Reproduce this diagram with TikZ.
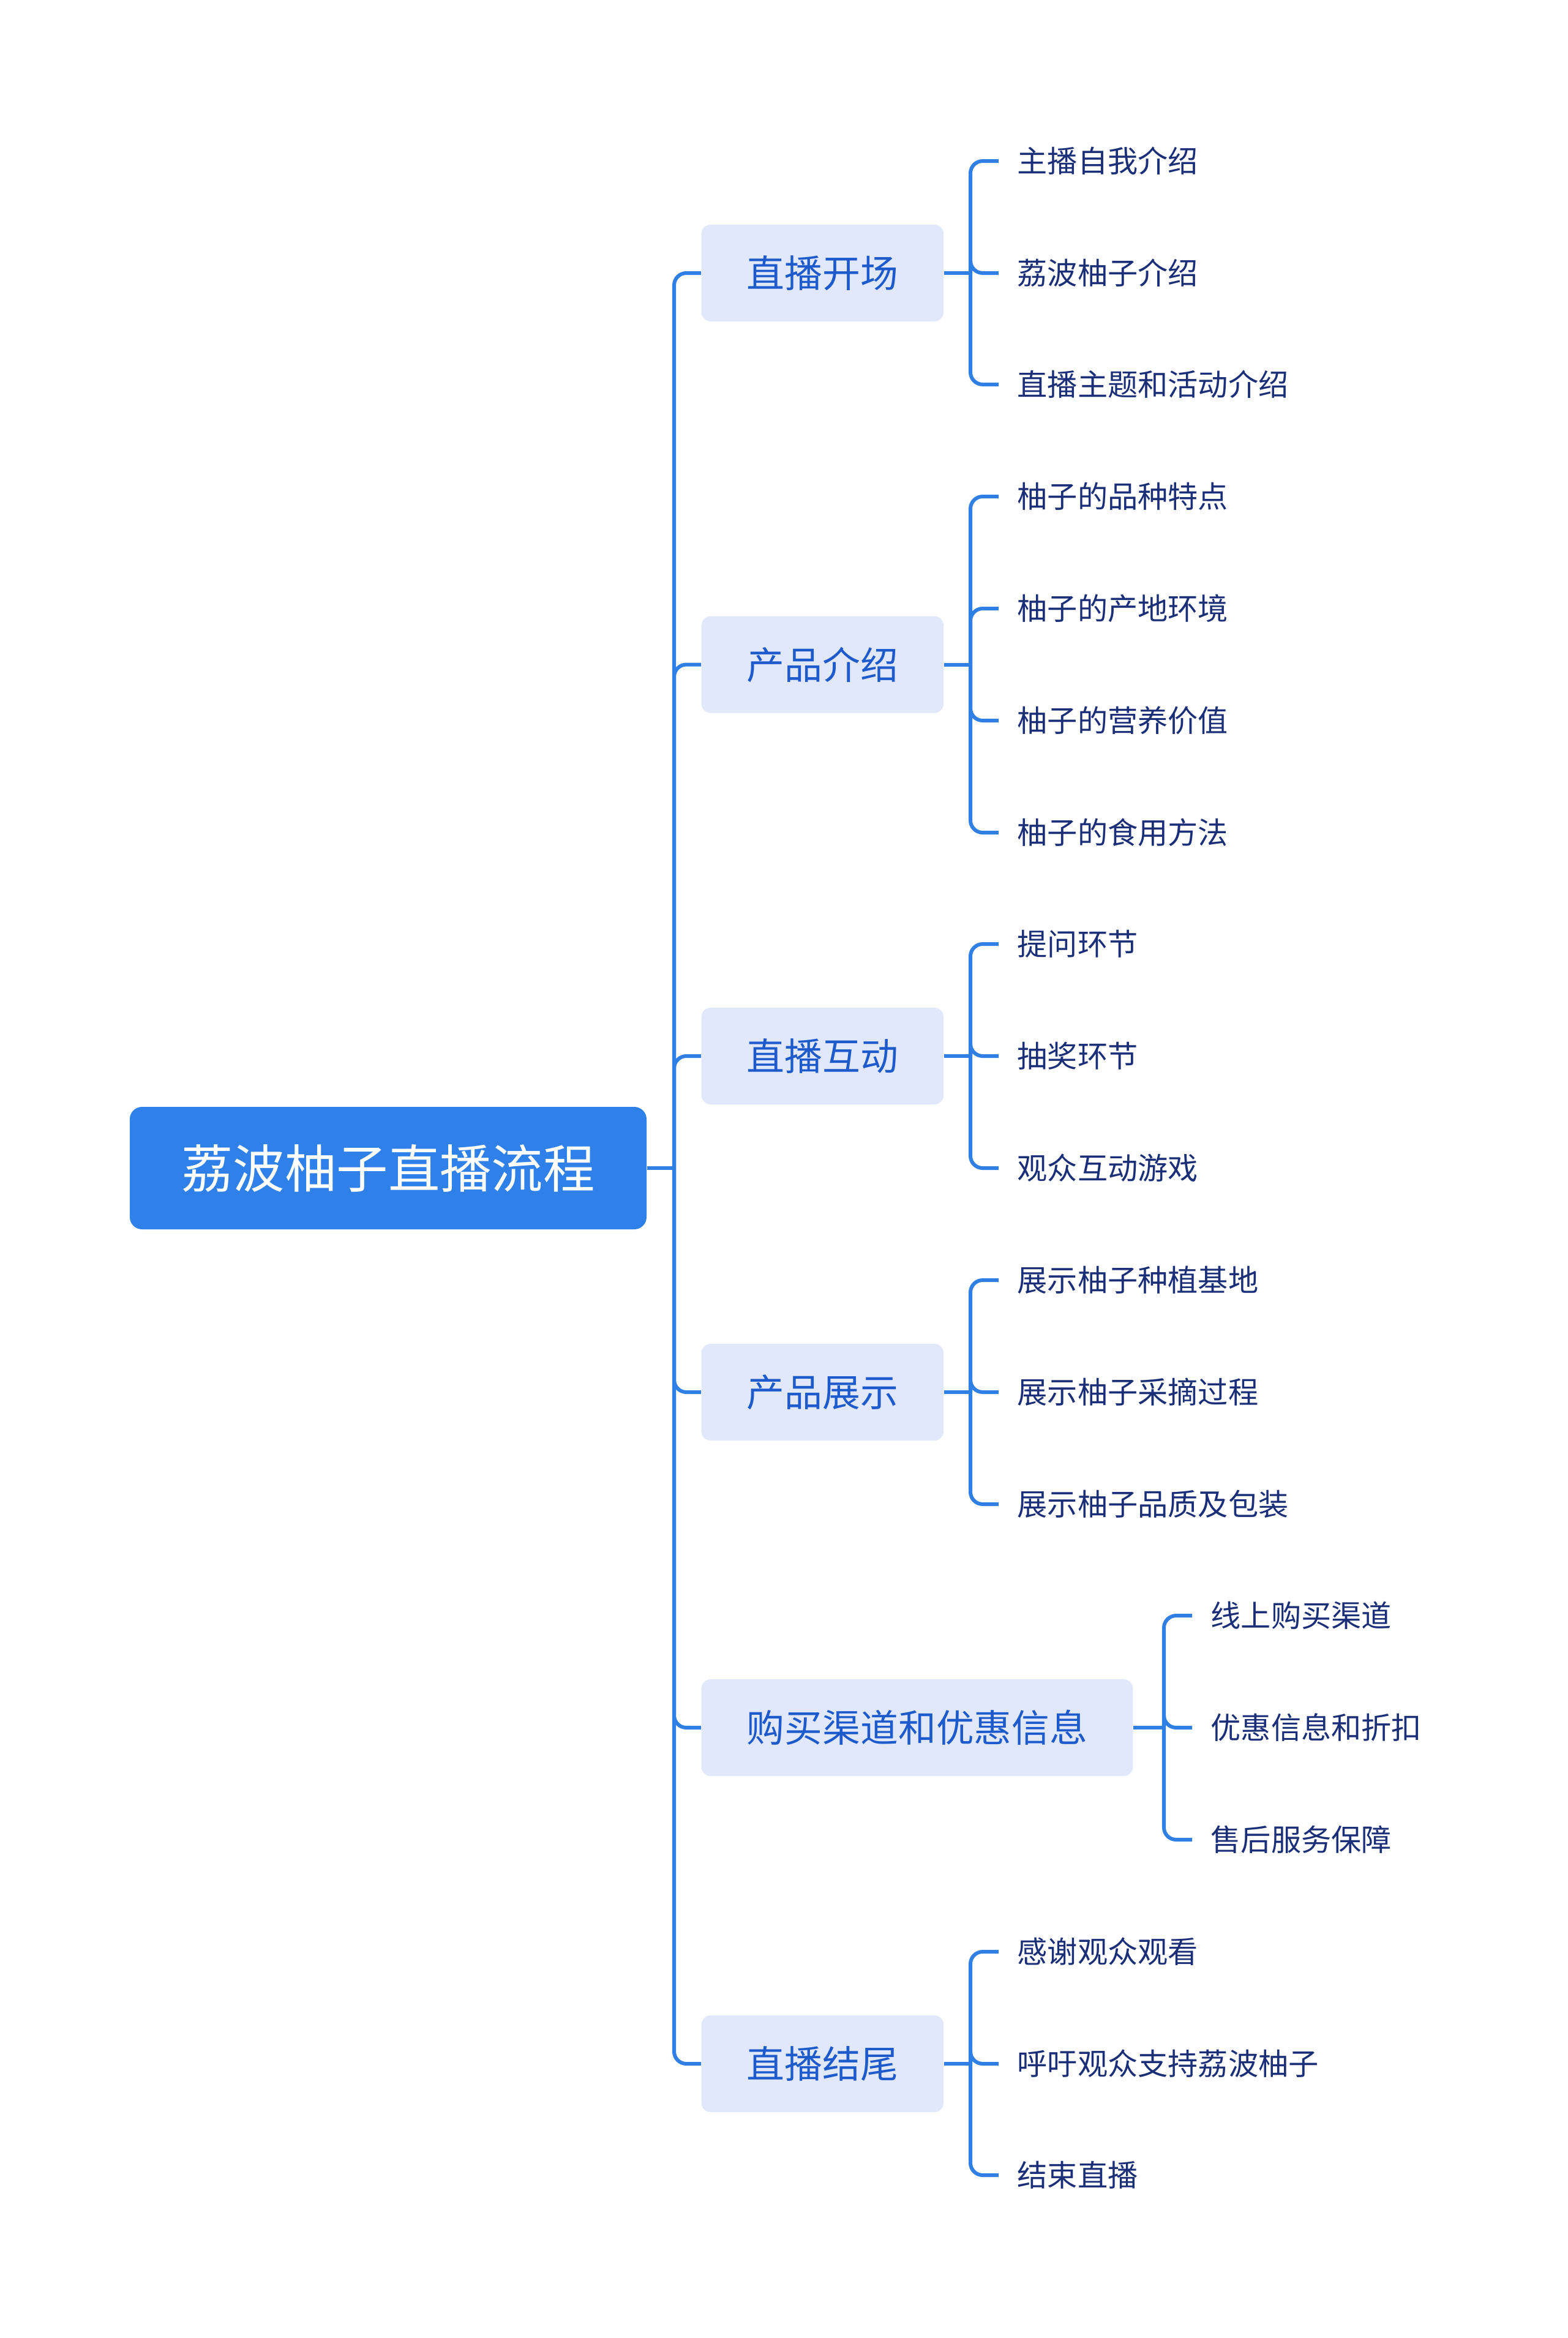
\documentclass[tikz,border=0pt]{standalone}
\usepackage{fontspec}
\usepackage{xcolor}
\usepackage{tikz}
\newfontfamily\cjk{Noto Sans CJK SC}
\definecolor{rootblue}{HTML}{2F80E8}
\definecolor{linkblue}{HTML}{2F7FE5}
\definecolor{topicfill}{HTML}{E2E8FB}
\definecolor{topictext}{HTML}{1D5ACB}
\definecolor{leaftext}{HTML}{1B2E78}

\begin{document}
\begin{tikzpicture}[root/.style={fill=rootblue, text=white, rounded corners=2mm, minimum width=84.4mm, minimum height=20mm, font=\cjk\fontsize{24}{28}\selectfont}, topic/.style={anchor=west, fill=topicfill, text=topictext, rounded corners=1.5mm, minimum height=15.8mm, inner xsep=7.4mm, font=\cjk\fontsize{17.6}{21}\selectfont}, leaf/.style={anchor=west, text=leaftext, inner xsep=3mm, inner ysep=0pt, font=\cjk\fontsize{14}{17}\selectfont}, link/.style={draw=linkblue, line width=0.6mm, rounded corners=2mm}]
\useasboundingbox (0,0) rectangle (25.60,-38.19);
\node[root] (root) at (6.34,-19.08) {荔波柚子直播流程};
\node[topic] (t1) at (11.45,-4.46) {直播开场};
\node[topic] (t2) at (11.45,-10.855) {产品介绍};
\node[topic] (t3) at (11.45,-17.25) {直播互动};
\node[topic] (t4) at (11.45,-22.74) {产品展示};
\node[topic] (t5) at (11.45,-28.22) {购买渠道和优惠信息};
\node[topic] (t6) at (11.45,-33.71) {直播结尾};
\node[leaf] (l11) at (16.31,-2.63) {主播自我介绍};
\node[leaf] (l12) at (16.31,-4.46) {荔波柚子介绍};
\node[leaf] (l13) at (16.31,-6.28) {直播主题和活动介绍};
\node[leaf] (l21) at (16.31,-8.11) {柚子的品种特点};
\node[leaf] (l22) at (16.31,-9.94) {柚子的产地环境};
\node[leaf] (l23) at (16.31,-11.77) {柚子的营养价值};
\node[leaf] (l24) at (16.31,-13.60) {柚子的食用方法};
\node[leaf] (l31) at (16.31,-15.42) {提问环节};
\node[leaf] (l32) at (16.31,-17.25) {抽奖环节};
\node[leaf] (l33) at (16.31,-19.08) {观众互动游戏};
\node[leaf] (l41) at (16.31,-20.91) {展示柚子种植基地};
\node[leaf] (l42) at (16.31,-22.74) {展示柚子采摘过程};
\node[leaf] (l43) at (16.31,-24.57) {展示柚子品质及包装};
\node[leaf] (l51) at (19.47,-26.39) {线上购买渠道};
\node[leaf] (l52) at (19.47,-28.22) {优惠信息和折扣};
\node[leaf] (l53) at (19.47,-30.05) {售后服务保障};
\node[leaf] (l61) at (16.31,-31.88) {感谢观众观看};
\node[leaf] (l62) at (16.31,-33.71) {呼吁观众支持荔波柚子};
\node[leaf] (l63) at (16.31,-35.53) {结束直播};
% root to topics
\coordinate (rj) at (11.01,-19.08);
\draw[link] (root.east) -- (rj);
\draw[link] (rj) |- (t1.west);
\draw[link] (rj) |- (t2.west);
\draw[link] (rj) |- (t3.west);
\draw[link] (rj) |- (t4.west);
\draw[link] (rj) |- (t5.west);
\draw[link] (rj) |- (t6.west);
% topics to leaves
\coordinate (j1) at (15.85,-4.46);
\draw[link] (t1.east) -- (j1);
\draw[link] (j1) |- (l11.west);
\draw[link] (j1) |- (l12.west);
\draw[link] (j1) |- (l13.west);
\coordinate (j2) at (15.85,-10.855);
\draw[link] (t2.east) -- (j2);
\draw[link] (j2) |- (l21.west);
\draw[link] (j2) |- (l22.west);
\draw[link] (j2) |- (l23.west);
\draw[link] (j2) |- (l24.west);
\coordinate (j3) at (15.85,-17.25);
\draw[link] (t3.east) -- (j3);
\draw[link] (j3) |- (l31.west);
\draw[link] (j3) |- (l32.west);
\draw[link] (j3) |- (l33.west);
\coordinate (j4) at (15.85,-22.74);
\draw[link] (t4.east) -- (j4);
\draw[link] (j4) |- (l41.west);
\draw[link] (j4) |- (l42.west);
\draw[link] (j4) |- (l43.west);
\coordinate (j5) at (19.01,-28.22);
\draw[link] (t5.east) -- (j5);
\draw[link] (j5) |- (l51.west);
\draw[link] (j5) |- (l52.west);
\draw[link] (j5) |- (l53.west);
\coordinate (j6) at (15.85,-33.71);
\draw[link] (t6.east) -- (j6);
\draw[link] (j6) |- (l61.west);
\draw[link] (j6) |- (l62.west);
\draw[link] (j6) |- (l63.west);
\end{tikzpicture}
\end{document}
